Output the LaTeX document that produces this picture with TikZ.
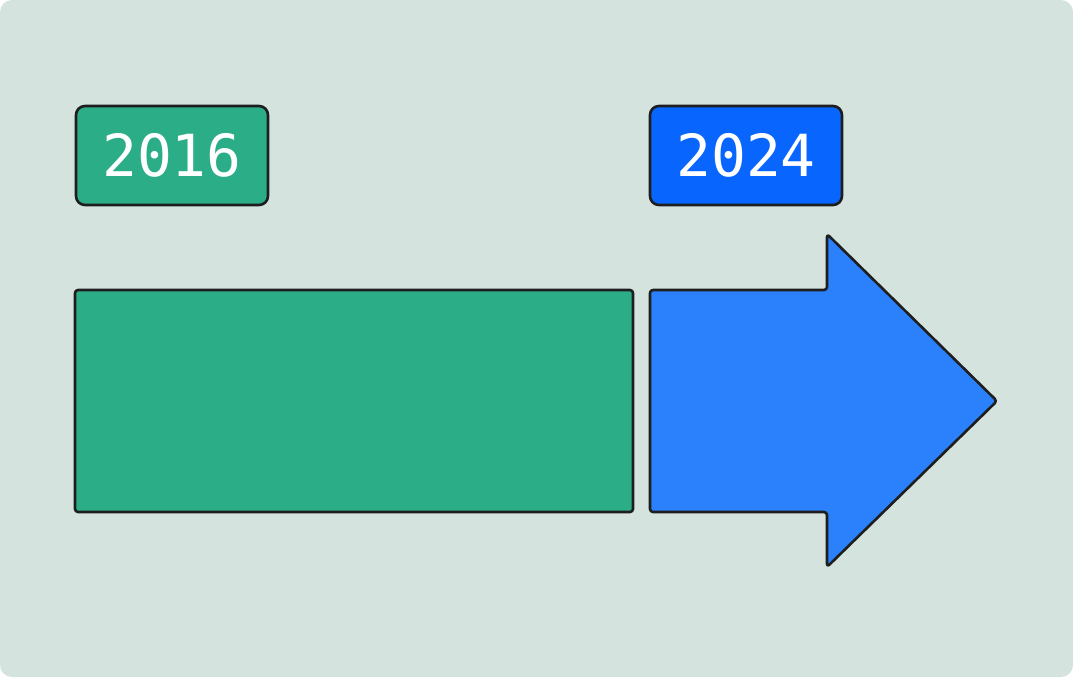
\documentclass[tikz,border=0pt]{standalone}
\usepackage{fontspec}
\newfontfamily\monofont{DejaVu Sans Mono}
\definecolor{bgc}{HTML}{D4E3DE}
\definecolor{greenc}{HTML}{2BAE87}
\definecolor{bluelab}{HTML}{0866FF}
\definecolor{bluearr}{HTML}{2B80FC}
\definecolor{strokec}{HTML}{1E1E1E}
\tikzset{
  outlined/.style={draw=strokec, line width=2.6pt, line join=round, rounded corners=3pt},
  yearlabel/.style={outlined, rounded corners=9pt, minimum width=192pt, minimum height=99pt, inner sep=0pt, text=white, font=\monofont\fontsize{58}{66}\selectfont}
}
\begin{document}
\begin{tikzpicture}[x=1pt,y=-1pt]
\useasboundingbox (0,0) rectangle (1073,677);
\fill[white] (0,0) rectangle (1073,677);
\fill[bgc, rounded corners=12pt] (0,0) rectangle (1073,677);
\node[yearlabel, fill=greenc] (y2016) at (172,155.5) {2016};
\node[yearlabel, fill=bluelab] (y2024) at (746,155.5) {2024};
\draw[outlined, fill=greenc] (75,290) rectangle (633,512);
\draw[outlined, fill=bluearr] (650,290) -- (827,290) -- (827,234) -- (997,401) -- (827,567) -- (827,512) -- (650,512) -- cycle;
\end{tikzpicture}
\end{document}
